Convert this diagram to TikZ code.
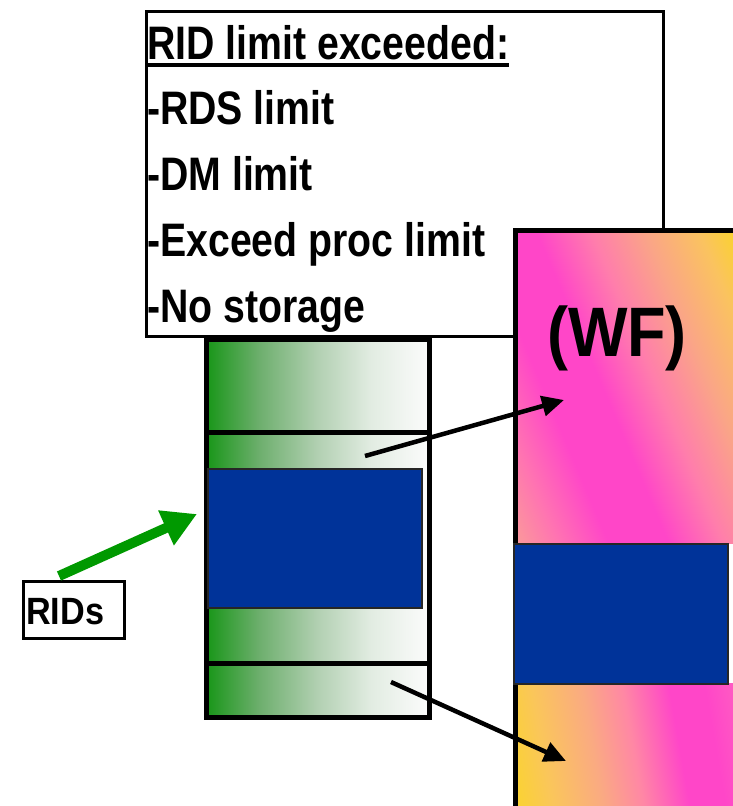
\documentclass[tikz,border=0pt]{standalone}
\usepackage{fontspec}
\usetikzlibrary{arrows.meta}
\newfontfamily\boxfont[FakeStretch=0.835]{Liberation Sans}
\newfontfamily\wffont[FakeStretch=0.9]{Liberation Sans}
\definecolor{ridgreen}{RGB}{0,153,0}
\definecolor{pageblue}{RGB}{0,51,153}
\definecolor{gA}{RGB}{24,150,24}
\definecolor{gB}{RGB}{110,175,110}
\definecolor{gC}{RGB}{178,208,178}
\definecolor{gD}{RGB}{226,236,226}
\definecolor{gE}{RGB}{252,252,252}
\definecolor{uA}{RGB}{250,160,150}
\definecolor{uB}{RGB}{255,115,178}
\definecolor{uC}{RGB}{255,70,200}
\definecolor{uD}{RGB}{255,125,172}
\definecolor{uE}{RGB}{250,165,135}
\definecolor{uF}{RGB}{250,195,95}
\definecolor{uG}{RGB}{250,212,40}
\definecolor{lA}{RGB}{250,212,45}
\definecolor{lB}{RGB}{250,198,90}
\definecolor{lC}{RGB}{250,170,130}
\definecolor{lD}{RGB}{255,135,165}
\definecolor{lE}{RGB}{255,70,200}
\definecolor{lF}{RGB}{255,90,195}
\pgfdeclarehorizontalshading{greenfade}{100bp}{color(0bp)=(gA); color(25bp)=(gA); color(37bp)=(gB); color(50bp)=(gC); color(62bp)=(gD); color(75bp)=(gE); color(100bp)=(gE)}
\pgfdeclarehorizontalshading{wfupper}{100bp}{color(0bp)=(uA); color(25bp)=(uA); color(32bp)=(uB); color(38.8bp)=(uC); color(47bp)=(uC); color(54.5bp)=(uD); color(62bp)=(uE); color(69.5bp)=(uF); color(75bp)=(uG); color(100bp)=(uG)}
\pgfdeclarehorizontalshading{wflower}{100bp}{color(0bp)=(lA); color(25bp)=(lA); color(33.2bp)=(lB); color(43.7bp)=(lC); color(52.1bp)=(lD); color(61.6bp)=(lE); color(69bp)=(lE); color(75bp)=(lF); color(100bp)=(lF)}
\tikzset{
  txtbox/.style={draw=black, line width=2.5pt, fill=white, anchor=north west, inner sep=0pt},
  boxtext/.style={anchor=base west, inner sep=0pt, font=\boxfont\bfseries\fontsize{47}{50}\selectfont},
  greensec/.style={draw=black, line width=4.5pt, shading=greenfade, anchor=north west, inner sep=0pt, minimum width=223pt},
  colframe/.style={draw=black, line width=4.5pt, anchor=north west, inner sep=0pt},
  bluebox/.style={draw=black!85, line width=1.8pt, fill=pageblue, anchor=north west, inner sep=0pt},
  blackarrow/.style={draw=black, line width=4.5pt, -{Triangle[length=22pt,width=20pt]}},
  greenarrow/.style={draw=ridgreen, line width=10pt, -{Triangle[length=34pt,width=36pt]}},
}
\begin{document}
\begin{tikzpicture}[x=1pt,y=-1pt]
\useasboundingbox (0,0) rectangle (733,806);
\clip (0,0) rectangle (733,806);
% text box
\node[txtbox, minimum width=517pt, minimum height=325pt] (limits) at (145,10) {};
\node[boxtext] (t1) at (147,59) {RID limit exceeded:};
\node[boxtext] (t2) at (147,124) {-RDS limit};
\node[boxtext] (t3) at (147,190) {-DM limit};
\node[boxtext] (t4) at (147,256) {-Exceed proc limit};
\node[boxtext] (t5) at (147,322) {-No storage};
\draw[line width=3.5pt] ([yshift=-6pt]t1.base west) -- ([yshift=-6pt]t1.base east);
% WF column: shaded fills
\begin{scope}
  \clip (513,228) rectangle (740,543);
  \begin{scope}[transform canvas={rotate around={23:(623,385)}}]
    \shade[shading=wfupper] (456,160) rectangle (790,610);
  \end{scope}
\end{scope}
\begin{scope}
  \clip (513,683) rectangle (740,810);
  \begin{scope}[transform canvas={rotate around={10:(623,745)}}]
    \shade[shading=wflower] (504,640) rectangle (742,850);
  \end{scope}
\end{scope}
\node[colframe, minimum width=240pt, minimum height=600pt] (wfcol) at (513,228) {};
\node[bluebox, minimum width=214pt, minimum height=140pt] (wfblue) at (513,543) {};
\node[font=\wffont\bfseries\fontsize{70}{72}\selectfont, inner sep=0pt] (wf) at (617,338) {(WF)};
% green column
\node[greensec, minimum height=93pt] (g1) at (204,337) {};
\node[greensec, minimum height=231pt] (g2) at (204,430) {};
\node[greensec, minimum height=54pt] (g3) at (204,661) {};
\node[bluebox, minimum width=214pt, minimum height=139pt] (gblue) at (207,468) {};
% RIDs
\node[draw=black, line width=3pt, fill=white, anchor=north west, minimum width=101pt, minimum height=57pt, inner sep=0pt] (rids) at (22,580) {};
\node[font=\wffont\bfseries\fontsize{38}{40}\selectfont, anchor=base west, inner sep=0pt] (ridtext) at (26,624) {RIDs};
% arrows
\coordinate (a1s) at (365,456);
\coordinate (a1e) at (564,400);
\coordinate (a2s) at (391,682);
\coordinate (a2e) at (566,761);
\coordinate (gs) at (59,576);
\coordinate (gt) at (197,514);
\draw[blackarrow] (a1s) -- (a1e);
\draw[blackarrow] (a2s) -- (a2e);
\draw[greenarrow] (gs) -- (gt);
\end{tikzpicture}
\end{document}
